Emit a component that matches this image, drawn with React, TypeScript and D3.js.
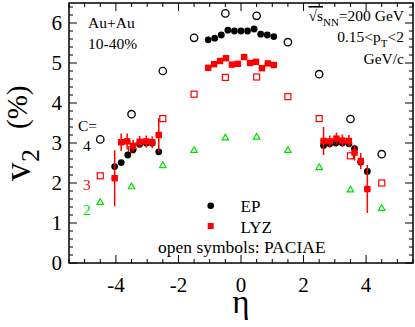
import * as d3 from "d3";
import React from "react";

// PACIAE model, open symbols, C = 4 / 3 / 2
const pacEta = [-4.5, -3.5, -2.5, -1.5, -0.5, 0.5, 1.5, 2.5, 3.5, 4.5];
const pacC4 = [3.09, 3.72, 4.8, 5.63, 6.24, 6.18, 5.52, 4.72, 3.6, 2.72];
const pacC3 = [2.18, 2.83, 3.61, 4.22, 4.64, 4.65, 4.16, 3.61, 2.68, 2.0];
const pacC2 = [1.52, 1.91, 2.44, 2.82, 3.13, 3.15, 2.82, 2.39, 1.83, 1.37];

// event plane (EP), filled circles
const epEta = [
    -4.04, -3.83, -3.62, -3.45, -3.24, -3.03, -2.84, -2.63,
    -1.05, -0.84, -0.63, -0.42, -0.21, 0, 0.21, 0.42, 0.63, 0.84, 1.05,
    2.64, 2.84, 3.03, 3.24, 3.45, 3.63, 3.83, 4.04
];
const epV2 = [
    2.41, 2.51, 2.7, 2.84, 2.97, 3.0, 3.0, 2.78,
    5.58, 5.62, 5.7, 5.82, 5.8, 5.8, 5.8, 5.85, 5.72, 5.7, 5.66,
    2.94, 2.98, 3.0, 3.0, 2.98, 2.86, 2.52, 2.29
];

// Lee-Yang zeros (LYZ), filled squares
const lyzEta = [
    -4.04, -3.83, -3.64, -3.45, -3.24, -3.03, -2.84, -2.63,
    -1.05, -0.86, -0.67, -0.48, -0.29, -0.1, 0.1, 0.29, 0.48, 0.67, 0.86, 1.05,
    2.64, 2.84, 3.05, 3.24, 3.45, 3.63, 3.83, 4.04
];
const lyzV2 = [
    2.12, 3.02, 3.04, 2.93, 3.03, 3.04, 3.02, 3.2,
    4.88, 4.97, 5.05, 5.12, 4.96, 4.98, 5.15, 5.0, 5.03, 4.87, 4.99, 4.95,
    3.05, 3.04, 3.11, 3.06, 3.05, 2.76, 2.55, 1.85
];
const lyzErr = [
    0.7, 0.22, 0.2, 0.15, 0.15, 0.15, 0.15, 0.42,
    0.06, 0.06, 0.06, 0.06, 0.06, 0.06, 0.06, 0.06, 0.06, 0.06, 0.06, 0.06,
    0.35, 0.15, 0.15, 0.15, 0.15, 0.2, 0.2, 0.6
];

const xTicks = [-4, -2, 0, 2, 4];
const yTicks = [0, 1, 2, 3, 4, 5, 6];

const width = 415;
const height = 327;
const left = 69;
const right = 413;
const top = 3;
const bottom = 263;
const font = "'Liberation Serif', 'Times New Roman', serif";
const green = "#00e000";

export default function App() {
    const x = d3.scaleLinear().domain([-5.5, 5.5]).range([left, right]);
    const y = d3.scaleLinear().domain([0, 6.5]).range([bottom, top]);

    const xMinor = d3.range(-5.5, 5.51, 0.5);
    const yMinor = d3.range(0, 6.51, 0.2);

    const tri = (cx, cy, s) => {
        const h = s * 0.866;
        return `M${cx},${cy - h * 0.62}L${cx + s / 2},${cy + h * 0.38}L${cx - s / 2},${cy + h * 0.38}Z`;
    };

    return (
        <svg
            width={width}
            height={height}
            style={{position: "absolute", left: 0, top: 0, background: "white"}}
            fontFamily={font}
        >
            {/* ticks, mirrored on all four sides */}
            {xMinor.map((t) => {
                const major = Math.abs(t % 2) < 1e-6;
                const len = major ? 8 : 4;
                return (
                    <g key={`xt${t}`} stroke="black" strokeWidth={1}>
                        <line x1={x(t)} x2={x(t)} y1={bottom} y2={bottom - len}/>
                        <line x1={x(t)} x2={x(t)} y1={top} y2={top + len}/>
                    </g>
                );
            })}
            {yMinor.map((t) => {
                const major = Math.abs(t - Math.round(t)) < 1e-6;
                const len = major ? 8 : 4;
                return (
                    <g key={`yt${t}`} stroke="black" strokeWidth={1}>
                        <line x1={left} x2={left + len} y1={y(t)} y2={y(t)}/>
                        <line x1={right} x2={right - len} y1={y(t)} y2={y(t)}/>
                    </g>
                );
            })}
            <rect x={left} y={top} width={right - left} height={bottom - top}
                  fill="none" stroke="black" strokeWidth={1.5}/>

            {xTicks.map((t) => (
                <text key={`xl${t}`} x={x(t)} y={292} fontSize={21} textAnchor="middle">
                    {t < 0 ? `-${-t}` : t}
                </text>
            ))}
            {yTicks.map((t) => (
                <text key={`yl${t}`} x={62} y={y(t) + 7} fontSize={21} textAnchor="end">
                    {t}
                </text>
            ))}

            <text x={x(0)} y={313} fontSize={33} textAnchor="middle">η</text>
            <g transform="translate(30,181) rotate(-90)">
                <text x={0} y={0} fontSize={37}>v</text>
                <text x={19} y={9} fontSize={26}>2</text>
                <text x={52} y={-3} fontSize={29}>(%)</text>
            </g>

            {/* PACIAE open symbols */}
            {pacEta.map((e, i) => (
                <g key={`pac${i}`} fill="none">
                    <path d={tri(x(e), y(pacC2[i]), 6.5)} stroke={green} strokeWidth={1.2}/>
                    <rect x={x(e) - 3} y={y(pacC3[i]) - 3} width={6} height={6}
                          stroke="red" strokeWidth={1.2}/>
                    <circle cx={x(e)} cy={y(pacC4[i])} r={3.7} stroke="black" strokeWidth={1.3}/>
                </g>
            ))}

            {/* EP */}
            {epEta.map((e, i) => (
                <circle key={`ep${i}`} cx={x(e)} cy={y(epV2[i])} r={3.4} fill="black"/>
            ))}

            {/* LYZ with error bars */}
            {lyzEta.map((e, i) => (
                <g key={`lyz${i}`}>
                    <line x1={x(e)} x2={x(e)} y1={y(lyzV2[i] - lyzErr[i])} y2={y(lyzV2[i] + lyzErr[i])}
                          stroke="red" strokeWidth={1.5}/>
                    <line x1={x(e - 0.1)} x2={x(e + 0.1)} y1={y(lyzV2[i])} y2={y(lyzV2[i])}
                          stroke="red" strokeWidth={1.5}/>
                    <rect x={x(e) - 3.2} y={y(lyzV2[i]) - 3.2} width={6.4} height={6.4} fill="red"/>
                </g>
            ))}

            {/* labels */}
            <text x={88} y={28} fontSize={15.5}>Au+Au</text>
            <text x={88} y={48.5} fontSize={15.5}>10-40%</text>

            <text x={404} y={21} fontSize={15.5} textAnchor="end">
                <tspan textDecoration="overline">√s</tspan>
                <tspan fontSize={11} dy={5}>NN</tspan>
                <tspan dy={-5}>=200 GeV</tspan>
            </text>
            <text x={404} y={42} fontSize={15.5} textAnchor="end">
                0.15&lt;p<tspan fontSize={11} dy={5}>T</tspan><tspan dy={-5}>&lt;2</tspan>
            </text>
            <text x={404} y={64} fontSize={15.5} textAnchor="end">GeV/c</text>

            <text x={78} y={130.5} fontSize={15.5}>C=</text>
            <text x={83} y={151} fontSize={15.5}>4</text>
            <text x={83} y={189.5} fontSize={15.5} fill="red">3</text>
            <text x={83} y={214.5} fontSize={15.5} fill={green}>2</text>

            {/* legend */}
            <circle cx={210.7} cy={205.7} r={3.3} fill="black"/>
            <text x={240.5} y={212} fontSize={17}>EP</text>
            <rect x={207.7} y={223} width={6} height={6} fill="red"/>
            <text x={240.5} y={232.5} fontSize={17}>LYZ</text>
            <text x={158} y={253} fontSize={17.5}>open symbols: PACIAE</text>
        </svg>
    );
}
